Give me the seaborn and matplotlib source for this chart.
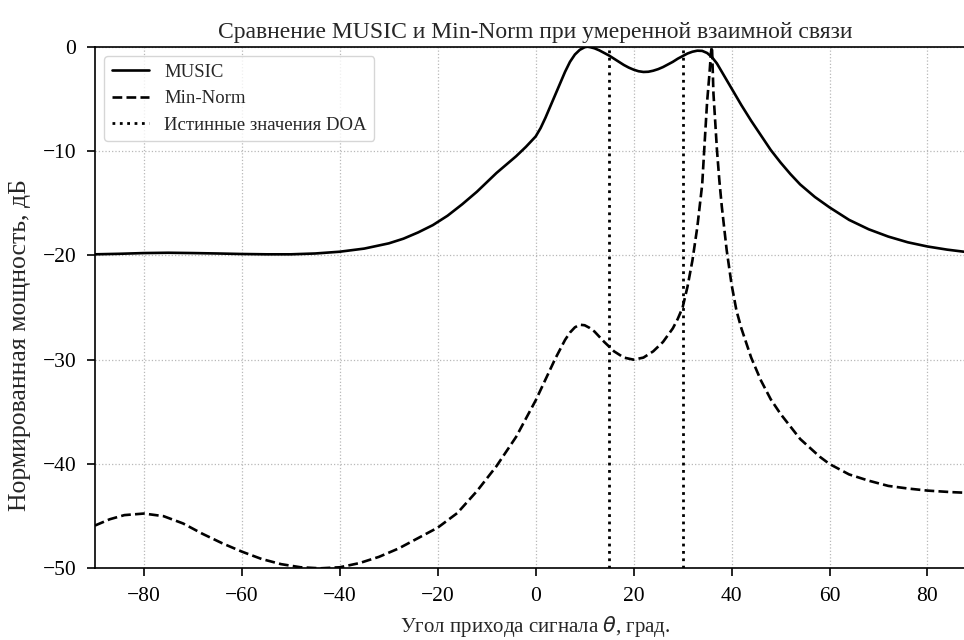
import numpy as np
import pandas as pd
import matplotlib
matplotlib.use("Agg")
import matplotlib.pyplot as plt
import seaborn as sns

# MUSIC spectrum, dB
music_theta = [-90, -85, -80, -75, -70, -65, -60, -55, -50, -45, -40, -35, -30, -27, -24,
               -21, -18, -15, -12, -10, -8, -6, -4, -2, 0, 1, 2, 3, 4, 5, 6, 7, 8, 9, 10,
               10.5, 11, 12, 13, 14, 15, 16, 17, 18, 19, 20, 21, 22, 23, 24, 25, 26, 27,
               28, 29, 30, 31, 32, 33, 34, 35, 36, 37, 38, 39, 40, 42, 44, 46, 48, 50,
               52, 54, 57, 60, 64, 68, 72, 76, 80, 84, 90]
music_db = [-19.9, -19.85, -19.78, -19.75, -19.78, -19.82, -19.87, -19.9, -19.9, -19.82,
            -19.65, -19.35, -18.85, -18.4, -17.8, -17.1, -16.2, -15.1, -13.9, -13.0,
            -12.1, -11.3, -10.5, -9.6, -8.6, -7.8, -6.8, -5.7, -4.6, -3.5, -2.4, -1.45,
            -0.75, -0.3, -0.05, 0.0, -0.03, -0.15, -0.35, -0.6, -0.85, -1.15, -1.45,
            -1.75, -2.0, -2.2, -2.35, -2.42, -2.4, -2.3, -2.15, -1.95, -1.7, -1.45,
            -1.15, -0.9, -0.65, -0.48, -0.38, -0.4, -0.6, -1.0, -1.6, -2.4, -3.2, -4.0,
            -5.6, -7.1, -8.5, -9.9, -11.1, -12.2, -13.2, -14.4, -15.4, -16.6, -17.5,
            -18.2, -18.75, -19.15, -19.45, -19.8]

# Min-Norm spectrum, dB
mn_theta = [-90, -87, -84, -80, -76, -72, -68, -64, -60, -56, -52, -48, -44, -40, -36,
            -32, -28, -24, -20, -16, -12, -8, -4, 0, 2, 4, 5, 6, 7, 8, 9, 10, 11, 12, 14,
            16, 18, 20, 22, 24, 26, 28, 29, 30, 31, 32, 33, 34, 34.5, 35, 35.5, 35.8, 36,
            36.3, 36.7, 37, 37.5, 38, 39, 40, 41, 42, 44, 46, 48, 50, 54, 58, 60, 64, 68,
            72, 76, 80, 85, 90]
mn_db = [-45.9, -45.3, -44.9, -44.75, -45.0, -45.7, -46.7, -47.6, -48.4, -49.1, -49.6,
         -49.9, -50.0, -49.9, -49.5, -48.9, -48.1, -47.1, -46.1, -44.7, -42.6, -40.2,
         -37.4, -33.9, -31.9, -29.9, -29.0, -28.1, -27.4, -26.9, -26.65, -26.7, -26.95,
         -27.3, -28.3, -29.2, -29.8, -30.0, -29.8, -29.2, -28.3, -27.0, -26.1, -25.0,
         -23.0, -20.5, -17.3, -13.2, -9.2, -5.3, -2.5, -0.5, 0.0, -4.5, -7.5, -9.8,
         -12.8, -15.3, -19.5, -22.8, -25.3, -27.0, -29.8, -32.0, -33.8, -35.2, -37.6,
         -39.3, -40.0, -41.0, -41.6, -42.1, -42.35, -42.55, -42.7, -42.8]

true_doa = [15, 30]

sns.set_style("ticks")
plt.rcParams['font.family'] = ['Liberation Serif', 'DejaVu Serif']
plt.rcParams['axes.unicode_minus'] = True

fig = plt.figure(figsize=(9.64, 6.4), dpi=100)
ax = fig.add_axes([0.0985, 0.112, 0.9144, 0.815])

music = pd.DataFrame({"theta": music_theta, "db": music_db})
minnorm = pd.DataFrame({"theta": mn_theta, "db": mn_db})

sns.lineplot(data=music, x="theta", y="db", ax=ax, color="k", linewidth=1.9, label="MUSIC")
sns.lineplot(data=minnorm, x="theta", y="db", ax=ax, color="k", linewidth=1.9,
             linestyle="--", label="Min-Norm")
for i, d in enumerate(true_doa):
    ax.axvline(d, color="k", linestyle=":", linewidth=2,
               label="Истинные значения DOA" if i == 0 else None)

ax.set_xlim(-90, 90)
ax.set_ylim(-50, 0)
ax.set_xticks([-80, -60, -40, -20, 0, 20, 40, 60, 80])
ax.set_yticks([-50, -40, -30, -20, -10, 0])
ax.grid(True, linestyle=":", color="0.72", linewidth=0.9)
ax.tick_params(labelsize=15.5, width=1.2, length=5.5, pad=8, colors="k")
for s in ax.spines.values():
    s.set_color("k")
    s.set_linewidth(1.2)

ax.set_title("Сравнение MUSIC и Min-Norm при умеренной взаимной связи", fontsize=17)
ax.set_xlabel(r"Угол прихода сигнала $\theta$, град.", fontsize=15, labelpad=6)
ax.set_ylabel("Нормированная мощность, дБ", fontsize=18.5)
ax.yaxis.set_label_coords(-0.072, 0.428)
ax.legend(loc="upper left", fontsize=13.5)

fig.savefig("out.png", dpi=100)
